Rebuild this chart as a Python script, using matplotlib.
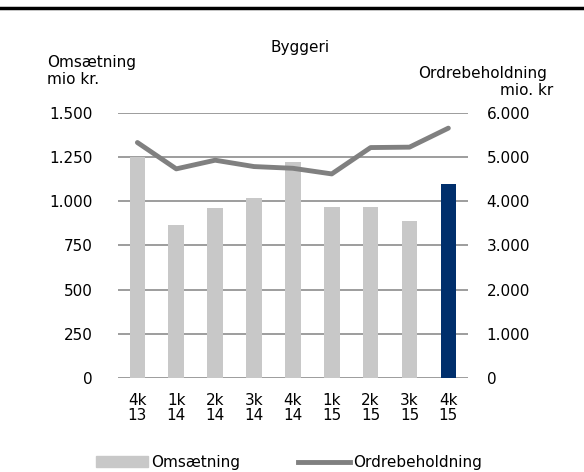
import numpy as np
import matplotlib.pyplot as plt
from matplotlib.ticker import FuncFormatter
from matplotlib.patches import Patch
from matplotlib.lines import Line2D

# Data
kvartaler = ["4k\n13", "1k\n14", "2k\n14", "3k\n14", "4k\n14", "1k\n15", "2k\n15", "3k\n15", "4k\n15"]
omsaetning = [1252, 866, 964, 1017, 1221, 966, 970, 890, 1098]
ordrebeholdning = [5328, 4732, 4928, 4784, 4745, 4618, 5214, 5223, 5653]

bar_farver = ["#c8c8c8"] * 8 + ["#002f6c"]
linje_farve = "#808080"
grid_farve = "#8c8c8c"

plt.rcParams["font.family"] = "DejaVu Sans"
fs = 11


def tusind(v, pos):
    return f"{int(v):,}".replace(",", ".")


fig = plt.figure(figsize=(5.84, 4.72), dpi=100)
ax = fig.add_axes([0.202, 0.199, 0.599, 0.562])
ax2 = ax.twinx()

x = np.arange(len(kvartaler))
ax.bar(x, omsaetning, width=0.4, color=bar_farver, zorder=2)
ax2.plot(x, ordrebeholdning, color=linje_farve, lw=3.5, solid_capstyle="round", zorder=3)

ax.set_xlim(-0.5, len(kvartaler) - 0.5)
ax.set_ylim(0, 1500)
ax.set_yticks(np.arange(0, 1501, 250))
ax2.set_ylim(0, 6000)
ax2.set_yticks(np.arange(0, 6001, 1000))
ax.yaxis.set_major_formatter(FuncFormatter(tusind))
ax2.yaxis.set_major_formatter(FuncFormatter(tusind))

ax.grid(axis="y", color=grid_farve, lw=1.2, zorder=0)
ax.set_axisbelow(True)
for a in (ax, ax2):
    for s in a.spines.values():
        s.set_visible(False)
    a.tick_params(length=0, labelsize=fs, colors="black")
ax.tick_params(axis="y", pad=18.5)
ax2.tick_params(axis="y", pad=13.5)
ax.set_xticks(x)
ax.set_xticklabels(kvartaler, linespacing=1.0)
ax.tick_params(axis="x", pad=11)
ax2.set_zorder(ax.get_zorder() + 1)
ax2.patch.set_visible(False)

# top black rule
fig.add_artist(Line2D([0, 1], [0.983, 0.983], color="black", lw=2.5))

fig.text(0.514, 0.9, "Byggeri", ha="center", va="center", fontsize=fs)
fig.text(0.08, 0.85, "Omsætning\nmio kr.", ha="left", va="center", fontsize=fs, linespacing=1.2)
fig.text(0.936, 0.845, "Ordrebeholdning", ha="right", va="center", fontsize=fs)
fig.text(0.947, 0.809, "mio. kr", ha="right", va="center", fontsize=fs)

handles = [Patch(color="#c8c8c8"), Line2D([0], [0], color=linje_farve, lw=3.5)]
fig.legend(handles, ["Omsætning", "Ordrebeholdning"], loc="center", bbox_to_anchor=(0.495, 0.02),
           ncol=2, frameon=False, fontsize=fs, handlelength=3.4, handletextpad=0.2,
           columnspacing=3.8)

fig.savefig("out.png", dpi=100)
